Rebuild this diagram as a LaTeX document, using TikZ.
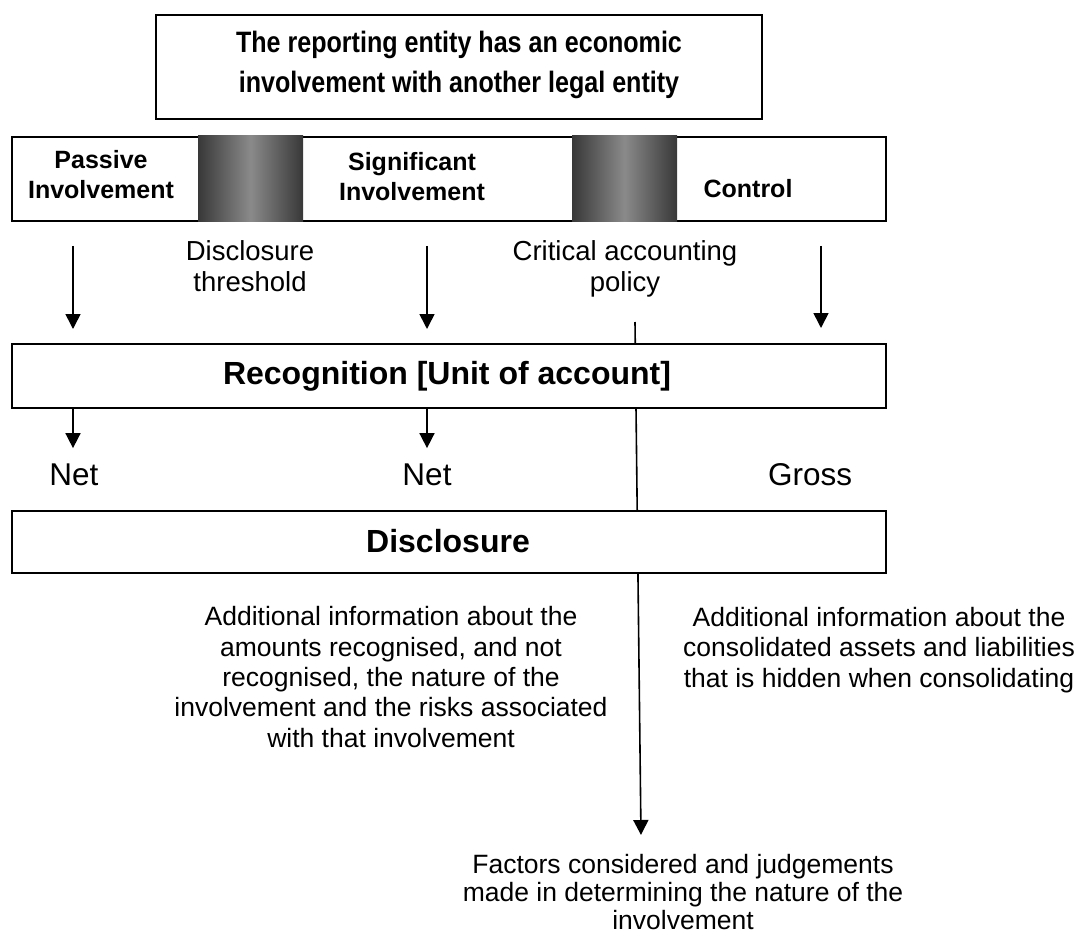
\documentclass[tikz,border=0pt]{standalone}
\usepackage{fontspec}
\setmainfont{Liberation Sans}
\newfontfamily\narrowfont[FakeStretch=0.85]{Liberation Sans}
\usetikzlibrary{arrows.meta}
\definecolor{gdark}{HTML}{383838}
\definecolor{glight}{HTML}{8A8A8A}
\begin{document}
\begin{tikzpicture}[x=1pt,y=-1pt,
  box/.style={draw=black, line width=1.8pt, fill=white, inner sep=0pt},
  reg/.style={font=\fontsize{26.5}{30.3}\selectfont, align=center, inner sep=0pt, anchor=base},
  regtight/.style={font=\fontsize{26.5}{28}\selectfont, align=center, inner sep=0pt, anchor=base},
  thr/.style={font=\fontsize{27.5}{31}\selectfont, align=center, inner sep=0pt, anchor=base},
  netlbl/.style={font=\fontsize{31.5}{33}\selectfont, inner sep=0pt, anchor=base},
  barlbl/.style={font=\bfseries\fontsize{25}{29.5}\selectfont, align=center, inner sep=0pt, anchor=base},
  biglbl/.style={font=\bfseries\fontsize{32}{34}\selectfont, inner sep=0pt, anchor=base},
  toplbl/.style={font=\narrowfont\bfseries\fontsize{29.5}{40}\selectfont, align=center, inner sep=0pt, anchor=base},
  arr/.style={line width=1.6pt, -{Triangle[length=15pt,width=15pt]}},
  grad/.style={left color=gdark, right color=gdark, middle color=glight}
]
\useasboundingbox (0,0) rectangle (1076,937);

% long connector behind the boxes
\coordinate (cl) at (635,322);
\coordinate (ce) at (641,835);
\draw[arr] (cl) -- (ce);

% top box
\node[box, minimum width=606, minimum height=104] (top) at (459,67) {};
\node[toplbl] (toptxt) at (459,92) {The reporting entity has an economic\\involvement with another legal entity};

% involvement bar
\node[box, minimum width=874, minimum height=84, anchor=north west] (bar) at (11,136) {};
\shade[grad] (198,135) rectangle (303,221);
\shade[grad] (572,135) rectangle (677,221);
\node[barlbl] (passive) at (101,198) {Passive\\Involvement};
\node[barlbl] (signif) at (412,200) {Significant\\Involvement};
\node[barlbl] (control) at (748,197) {Control};

% threshold labels
\node[thr] (thresh) at (250,291) {Disclosure\\threshold};
\node[thr] (policy) at (625,291) {Critical accounting\\policy};

% recognition box
\node[box, minimum width=874, minimum height=64, anchor=north west] (rec) at (11,343) {};
\node[biglbl] (rectxt) at (447,384) {Recognition [Unit of account]};

% x positions of arrows
\coordinate (xP) at (73,0);
\coordinate (xS) at (427,0);
\coordinate (xC) at (821,0);

\draw[arr, shorten <=24pt, shorten >=14pt] (bar.south -| xP) -- (rec.north -| xP);
\draw[arr, shorten <=24pt, shorten >=14pt] (bar.south -| xS) -- (rec.north -| xS);
\draw[arr, shorten <=24pt, shorten >=15pt] (bar.south -| xC) -- (rec.north -| xC);

% Net / Gross
\node[netlbl] (net1) at (74,485) {Net};
\node[netlbl] (net2) at (427,485) {Net};
\node[netlbl] (gross) at (810,485) {Gross};

\draw[arr, shorten >=15pt] (rec.south -| xP) -- (net1.north -| xP);
\draw[arr, shorten >=15pt] (rec.south -| xS) -- (net2.north -| xS);

% disclosure box
\node[box, minimum width=874, minimum height=62, anchor=north west] (disc) at (11,510) {};
\node[biglbl] (disctxt) at (448,552) {Disclosure};

% paragraphs
\node[reg] (leftpar) at (391,747) {Additional information about the\\amounts recognised, and not\\recognised, the nature of the\\involvement and the risks associated\\with that involvement};
\node[reg] (rightpar) at (879,687) {Additional information about the\\consolidated assets and liabilities\\that is hidden when consolidating};
\node[regtight] (botpar) at (683,929) {Factors considered and judgements\\made in determining the nature of the\\involvement};
\end{tikzpicture}
\end{document}
